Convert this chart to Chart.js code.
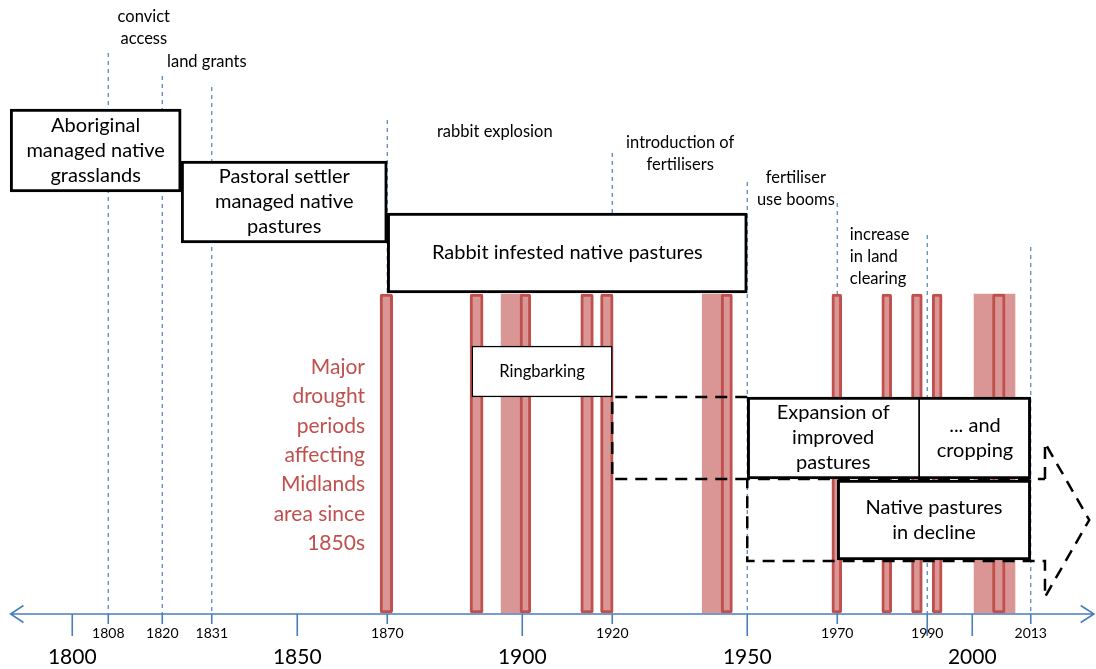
<!DOCTYPE html>
<html>
<head>
<meta charset="utf-8">
<script src="https://cdn.jsdelivr.net/npm/chart.js@4.4.1/dist/chart.umd.min.js"></script>
<style>
html,body{margin:0;padding:0;background:#fff;}
#wrap{width:1096px;height:669px;position:relative;}
</style>
</head>
<body>
<div id="wrap"><canvas id="c"></canvas></div>
<script>
// ===== DATA =====
const majorYears = [1800, 1850, 1900, 1950, 2000];
const smallTickYears = [1808, 1820, 1831, 1870, 1920, 1970, 1990, 2013];
const eventYears = [1808, 1820, 1831, 1870, 1920, 1950, 1970, 1990, 2013];

// major drought periods (short, outlined bars) [start, end]
const droughtShort = [
  [1868.4, 1871.2], [1888.4, 1891.3], [1899.5, 1901.9], [1913.0, 1915.8],
  [1917.4, 1920.2], [1944.2, 1946.7], [1968.8, 1971.0], [1979.9, 1982.1],
  [1986.5, 1988.9], [1991.1, 1993.3], [2004.5, 2007.3]
];
// extended drought periods (light bands) [start, end]
const droughtLong = [[1895.3, 1900.2], [1940.0, 1944.7], [2000.4, 2009.5]];

// land-use phases
const phaseLines = [
  ['Aboriginal', 'managed native', 'grasslands'],
  ['Pastoral settler', 'managed native', 'pastures'],
  ['Rabbit infested native pastures'],
  ['Ringbarking'],
  ['Expansion of', 'improved', 'pastures'],
  ['Native pastures', 'in decline']
];
const phaseStart = [1786.2, 1824.2, 1870, 1888.8, 1950, 1970];
const phaseEnd   = [1824.2, 1870, 1950, 1920, 2013, 2013];
const croppingStart = 1988.2;
const croppingLines = ['... and', 'cropping'];

// annotations at the top
const noteLines = [
  ['convict', 'access'],
  ['land grants'],
  ['rabbit explosion'],
  ['introduction of', 'fertilisers'],
  ['fertiliser', 'use booms'],
  ['increase', 'in land', 'clearing']
];
const noteYears = [1815.9, 1829.9, 1893.9, 1935.1, 1960.8, 1972.8];

const droughtNote = ['Major', 'drought', 'periods', 'affecting', 'Midlands', 'area since', '1850s'];

// ===== LAYOUT (pixels on the vertical scale / styling) =====
const Y = {
  axis: 614, majorTickEnd: 636, smallTickEnd: 624,
  droughtTop: 294, droughtBottom: 613,
  eventTops: [53, 76, 87, 120, 153, 182, 203, 235, 247],
  boxRows: [[109, 192], [161, 243], [213, 293], [346, 397], [397, 479], [480, 560]],
  noteTops: [17, 62, 132, 143, 178, 235],
  noteAlign: ['center', 'center', 'center', 'center', 'center', 'left'],
  droughtNoteTop: 367, droughtNoteStep: 29.4, droughtNoteRight: 1865.05,
  smallLabel: 633, majorLabel: 657,
  connector: [397, 479], arrowShaft: [479, 561], arrowHead: [443, 520, 597]
};
const AX = { start: 1786.2, end: 2027.05, armBack: 2.95 };
const ARROW = { base: 2016.16, tip: 2026.0 };

const BLUE = '#4F81BD';
const AXIS_BLUE = '#4A7EBB';
const RED = '#C0504D';
const PINK = '#D99694';
const FONT = 'Lato, "Open Sans", sans-serif';

// ===== datasets =====
const gap = (x) => ({ x: x, y: null });

const blueDashData = [];
eventYears.forEach((yr, i) => {
  blueDashData.push({ x: yr, y: Y.eventTops[i] }, { x: yr, y: Y.axis }, gap(yr));
});

const axisData = [
  { x: AX.start, y: Y.axis }, { x: AX.end, y: Y.axis }, gap(AX.end),
  { x: AX.start + AX.armBack, y: Y.axis - 8.5 }, { x: AX.start + 0.1, y: Y.axis }, { x: AX.start + AX.armBack, y: Y.axis + 8.5 }, gap(AX.start),
  { x: AX.end - AX.armBack, y: Y.axis - 8.5 }, { x: AX.end, y: Y.axis }, { x: AX.end - AX.armBack, y: Y.axis + 8.5 }, gap(AX.end)
];
majorYears.forEach(yr => axisData.push({ x: yr, y: Y.axis }, { x: yr, y: Y.majorTickEnd }, gap(yr)));
smallTickYears.forEach(yr => axisData.push({ x: yr, y: Y.axis }, { x: yr, y: yr === 1990 ? Y.majorTickEnd : Y.smallTickEnd }, gap(yr)));

const droughtMid = (Y.droughtTop + Y.droughtBottom) / 2;
const droughtH = Y.droughtBottom - Y.droughtTop;

function boxDataset(i, order, bw) {
  const [top, bottom] = Y.boxRows[i];
  return {
    type: 'bar', indexAxis: 'y', grouped: false, order: order,
    data: [{ x: [phaseStart[i], phaseEnd[i]], y: (top + bottom) / 2 }],
    barThickness: bottom - top,
    backgroundColor: '#ffffff', borderColor: '#000000', borderWidth: bw,
    borderSkipped: false, borderRadius: 0
  };
}

const connectorData = [
  { x: phaseStart[4], y: Y.connector[0] }, { x: phaseEnd[3], y: Y.connector[0] },
  { x: phaseEnd[3], y: Y.connector[1] }, { x: phaseStart[4], y: Y.connector[1] }, gap(phaseStart[4]),
  { x: ARROW.base, y: Y.arrowShaft[0] }, { x: ARROW.base, y: Y.arrowHead[0] },
  { x: ARROW.tip, y: Y.arrowHead[1] }, { x: ARROW.base, y: Y.arrowHead[2] },
  { x: ARROW.base, y: Y.arrowShaft[1] }, { x: phaseStart[4], y: Y.arrowShaft[1] },
  { x: phaseStart[4], y: Y.arrowShaft[0] }, { x: ARROW.base, y: Y.arrowShaft[0] }
];

const dividerData = [{ x: croppingStart, y: Y.boxRows[4][0] }, { x: croppingStart, y: Y.boxRows[4][1] }];

const lineBase = { type: 'line', pointRadius: 0, tension: 0, fill: false, spanGaps: false };

const datasets = [
  Object.assign({}, lineBase, { data: blueDashData, borderColor: BLUE, borderWidth: 1.2, borderDash: [4, 4], order: 20 }),
  { type: 'bar', indexAxis: 'y', grouped: false, order: 19,
    data: droughtLong.map(r => ({ x: r, y: droughtMid })), barThickness: droughtH,
    backgroundColor: PINK, borderWidth: 0 },
  { type: 'bar', indexAxis: 'y', grouped: false, order: 18,
    data: droughtShort.map(r => ({ x: r, y: droughtMid })), barThickness: droughtH,
    backgroundColor: PINK, borderColor: RED, borderWidth: 3, borderRadius: 2, borderSkipped: false },
  boxDataset(0, 17, 3),
  boxDataset(1, 16, 3),
  boxDataset(2, 15, 3),
  Object.assign({}, lineBase, { data: axisData, borderColor: AXIS_BLUE, borderWidth: 1.6, order: 14 }),
  Object.assign({}, lineBase, { data: connectorData, borderColor: '#000', borderWidth: 2.5, borderDash: [12, 8], order: 13 }),
  boxDataset(3, 12, 1.5),
  boxDataset(4, 11, 3),
  boxDataset(5, 10, 3),
  Object.assign({}, lineBase, { data: dividerData, borderColor: '#000', borderWidth: 1, order: 9 })
];

// ===== text plugin =====
const textPlugin = {
  id: 'diagramText',
  afterDatasetsDraw(chart) {
    const { ctx } = chart;
    const xs = chart.scales.x, ys = chart.scales.y;
    const px = v => xs.getPixelForValue(v);
    const py = v => ys.getPixelForValue(v);
    ctx.save();
    ctx.textBaseline = 'middle';

    // axis labels
    ctx.fillStyle = '#000';
    ctx.textAlign = 'center';
    ctx.font = '21px ' + FONT;
    majorYears.forEach(yr => ctx.fillText(String(yr), px(yr), py(Y.majorLabel)));
    ctx.font = '14px ' + FONT;
    smallTickYears.forEach(yr => ctx.fillText(String(yr), px(yr), py(Y.smallLabel)));

    // top notes
    ctx.font = '16.5px ' + FONT;
    noteLines.forEach((lines, i) => {
      ctx.textAlign = Y.noteAlign[i];
      lines.forEach((t, j) => ctx.fillText(t, px(noteYears[i]), py(Y.noteTops[i] + j * 21.7)));
    });

    // box texts
    const boxText = (lines, x0, x1, row, size) => {
      ctx.font = size + 'px ' + FONT;
      ctx.textAlign = 'center';
      const cx = (px(x0) + px(x1)) / 2;
      const cy = (py(row[0]) + py(row[1])) / 2;
      const lh = 25;
      lines.forEach((t, j) => ctx.fillText(t, cx, cy + (j - (lines.length - 1) / 2) * lh));
    };
    boxText(phaseLines[0], phaseStart[0], phaseEnd[0], Y.boxRows[0], 20);
    boxText(phaseLines[1], phaseStart[1], phaseEnd[1], Y.boxRows[1], 20);
    boxText(phaseLines[2], phaseStart[2], phaseEnd[2], Y.boxRows[2], 20);
    boxText(phaseLines[3], phaseStart[3], phaseEnd[3], Y.boxRows[3], 16.5);
    boxText(phaseLines[4], phaseStart[4], croppingStart, Y.boxRows[4], 20);
    boxText(croppingLines, croppingStart, phaseEnd[4], Y.boxRows[4], 20);
    boxText(phaseLines[5], phaseStart[5], phaseEnd[5], Y.boxRows[5], 20);

    // drought note
    ctx.fillStyle = RED;
    ctx.font = '21px ' + FONT;
    ctx.textAlign = 'right';
    droughtNote.forEach((t, j) => ctx.fillText(t, px(Y.droughtNoteRight), py(Y.droughtNoteTop + j * Y.droughtNoteStep)));
    ctx.restore();
  }
};

new Chart(document.getElementById('c'), {
  type: 'bar',
  data: { datasets: datasets },
  options: {
    responsive: true,
    maintainAspectRatio: false,
    animation: false,
    events: [],
    layout: { padding: 0 },
    plugins: { legend: { display: false }, tooltip: { enabled: false }, title: { display: false } },
    scales: {
      x: { type: 'linear', min: 1783.94, max: 2027.5, offset: false, display: false, beginAtZero: false },
      y: { type: 'linear', min: 0, max: 669, reverse: true, offset: false, display: false, beginAtZero: false }
    }
  },
  plugins: [textPlugin]
});
</script>
</body>
</html>
